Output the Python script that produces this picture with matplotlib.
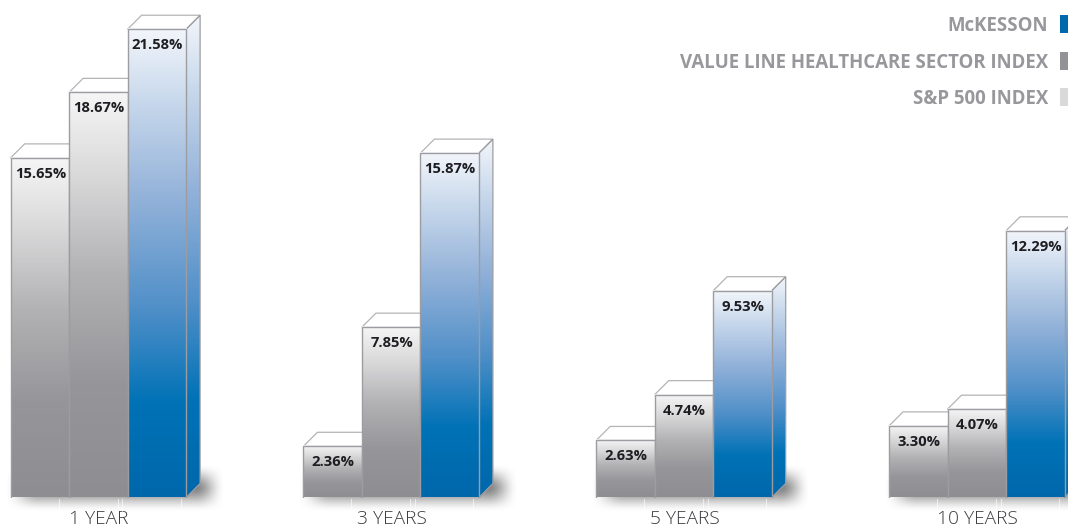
import numpy as np
import matplotlib
matplotlib.use("Agg")
import matplotlib.pyplot as plt
from matplotlib.colors import LinearSegmentedColormap
from matplotlib.patches import Polygon, Rectangle

periods = ["1 YEAR", "3 YEARS", "5 YEARS", "10 YEARS"]
sp500 = [15.65, 2.36, 2.63, 3.30]
value_line = [18.67, 7.85, 4.74, 4.07]
mckesson = [21.58, 15.87, 9.53, 12.29]
legend_names = ["McKESSON", "VALUE LINE HEALTHCARE SECTOR INDEX", "S&P 500 INDEX"]
legend_colors = ["#0069ae", "#939397", "#d9d9da"]

W, H = 1068, 528
BASE = 497.5
PX_PER_UNIT = 21.7
GROUP0, GROUP_STEP = 10.6, 292.8
BAR_W, DEPTH = 58.5, 14.0
EDGE = "#9d9da1"

grey_cmap = LinearSegmentedColormap.from_list("g", [
    (0, "#f6f6f7"), (.2, "#dadadb"), (.45, "#b2b2b4"), (.72, "#969599"), (1, "#8e8d92")])
blue_cmap = LinearSegmentedColormap.from_list("b", [
    (0, "#f3f6fb"), (.15, "#c9d9ec"), (.36, "#93b2d9"), (.6, "#4f8fc8"), (.8, "#0072b6"), (1, "#0067ab")])
grad = np.linspace(0, 1, 256)[:, None]

plt.rcParams["font.family"] = ["Open Sans", "DejaVu Sans"]
fig = plt.figure(figsize=(W / 100, H / 100), dpi=100)
ax = fig.add_axes([0, (H - BASE) / H, 1, BASE / H])
ymax = BASE / PX_PER_UNIT
depth_y = DEPTH / PX_PER_UNIT


def shadow(x0, x1, ytop, ybot):
    # Soft drop shadow, built in pixel space: wide fade on the right and bottom
    xs = np.arange(x0 - 30, x1 + 40)
    ys = np.arange(ytop - 30, ybot + 30)
    def smooth(t):
        t = np.clip(t, 0, 1)
        return t * t * (3 - 2 * t)
    ax_x = smooth((xs - (x0 - 14)) / 34) * smooth(((x1 + 14) - xs) / 30)
    ax_y = smooth((ys - (ytop - 12)) / 26) * smooth(((ybot + 12) - ys) / 26)
    alpha = np.outer(ax_y, ax_x) * .7
    rgba = np.zeros(alpha.shape + (4,))
    rgba[..., :3] = .30
    rgba[..., 3] = alpha
    ax.imshow(rgba, extent=[xs[0], xs[-1], (BASE - ys[-1]) / PX_PER_UNIT, (BASE - ys[0]) / PX_PER_UNIT],
              aspect="auto", zorder=1, clip_on=False, interpolation="bilinear")


def bar3d(x, val, cmap, z):
    xr = x + BAR_W
    ext = [x, xr, 0, val]
    ax.plot([x, x, xr, xr], [0, val, val, 0], color=EDGE, lw=1.0, zorder=z + .3, solid_joinstyle="miter")
    side_pts = [(xr, 0), (xr + DEPTH, depth_y), (xr + DEPTH, val + depth_y), (xr, val)]
    side = Polygon(side_pts, closed=True, fc="none", ec=EDGE, lw=.9, zorder=z + .2)
    top = Polygon([(x, val), (x + DEPTH, val + depth_y), (xr + DEPTH, val + depth_y), (xr, val)],
                  closed=True, fc="white", ec="#b4b4b7", lw=.9, zorder=z + .1)
    ax.add_patch(top)
    ax.add_patch(side)
    clip = Polygon(side_pts, closed=True, transform=ax.transData)
    im = ax.imshow(grad, cmap=cmap, extent=[xr, xr + DEPTH, 0, val + depth_y], aspect="auto",
                   zorder=z + .05, vmin=0, vmax=1)
    im.set_clip_path(clip)
    ax.imshow(grad, cmap=cmap, extent=ext, aspect="auto", zorder=z + .25, vmin=0, vmax=1)
    ax.annotate(f"{val:.2f}%", (x + BAR_W / 2 + .5, val), xytext=(0, -16 * .72), textcoords="offset points",
                ha="center", va="center", fontsize=10.6, fontweight="bold", color="#1d1d22", zorder=z + 1)


centers = []
for i, name in enumerate(periods):
    g = GROUP0 + GROUP_STEP * i
    centers.append(g + 1.5 * BAR_W + .5)
    shadow(g + 8, g + 3 * BAR_W + 25, BASE - 22, BASE + 3)
    for k, (vals, cmap) in enumerate(zip([sp500, value_line, mckesson], [grey_cmap, grey_cmap, blue_cmap])):
        bar3d(g + k * BAR_W, vals[i], cmap, 3 + k)
    for off in (48, 107, 111.5, 170):
        ax.plot([g + off] * 2, [-.05, -13 / PX_PER_UNIT], color="white", lw=.8, alpha=.6, zorder=2, clip_on=False)

ax.set_xlim(0, W)
ax.set_ylim(0, ymax)
ax.set_xticks(centers)
ax.set_xticklabels(periods, fontsize=13.8, color="#3a3a3e", fontweight="light")
ax.tick_params(axis="x", length=0, pad=9)
ax.set_yticks([])
for s in ax.spines.values():
    s.set_visible(False)
ax.patch.set_alpha(0)

for name, col, py in zip(legend_names, legend_colors, (24, 61, 97)):
    y = (BASE - py) / PX_PER_UNIT
    ax.text(1048, y - 2 / PX_PER_UNIT, name, ha="right", va="center", fontsize=13.4, fontweight="bold",
            color="#98989c", zorder=10)
    ax.add_patch(Rectangle((1060, y - 9 / PX_PER_UNIT), 8, 18 / PX_PER_UNIT, fc=col, ec="none", zorder=10))

fig.savefig("out.png", dpi=100)
